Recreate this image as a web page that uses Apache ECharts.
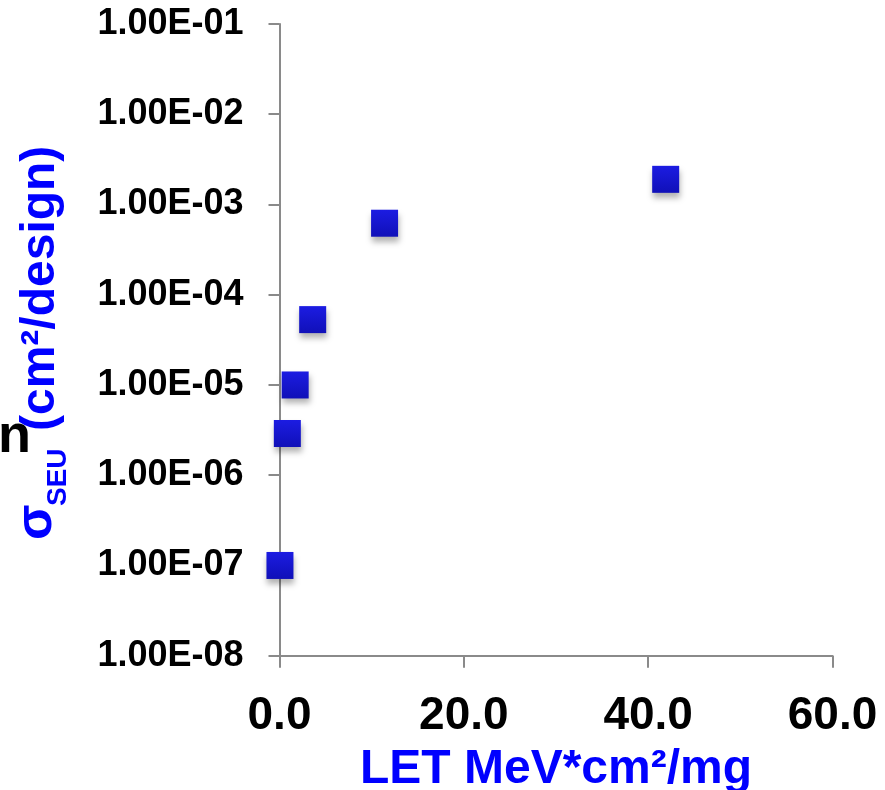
<!DOCTYPE html>
<html>
<head>
<meta charset="utf-8">
<script src="https://cdn.jsdelivr.net/npm/echarts@6/dist/echarts.min.js"></script>
<style>
  html, body { margin: 0; padding: 0; background: #fff; }
  #chart { width: 885px; height: 790px; }
</style>
</head>
<body>
<div id="chart"></div>
<script>
// LET (MeV*cm2/mg) and SEU cross-section (cm2/design)
const letValues = [0.05, 0.85, 1.7, 3.6, 11.4, 41.9]
const sigmaValues = [1e-7, 2.9e-6, 1e-5, 5.3e-5, 6.2e-4, 1.9e-3]
const xTicks = [0, 20, 40, 60]
const yMin = 1e-8
const yMax = 1e-1

const FONT = 'Liberation Sans, Arial, sans-serif'
const BLUE = '#0000ff'
const AXIS_GRAY = '#8a8a8a'

const chart = echarts.init(document.getElementById('chart'))

// "1.00E-03" style labels like Excel
const sciLabel = (v) => {
  const exp = Math.round(Math.log10(v))
  const mant = v / Math.pow(10, exp)
  const sign = exp < 0 ? '-' : '+'
  return mant.toFixed(2) + 'E' + sign + String(Math.abs(exp)).padStart(2, '0')
}

const option = {
  animation: false,
  backgroundColor: '#ffffff',
  grid: {
    left: 279.5,
    right: 52.5,
    top: 24,
    bottom: 134.3,
    outerBoundsMode: 'none',
    containLabel: false
  },
  xAxis: {
    type: 'value',
    min: xTicks[0],
    max: xTicks[xTicks.length - 1],
    interval: 20,
    splitLine: { show: false },
    axisLine: { onZero: false, lineStyle: { color: AXIS_GRAY, width: 2 } },
    axisTick: { show: true, length: 12, lineStyle: { color: AXIS_GRAY, width: 2 } },
    axisLabel: {
      margin: 38,
      fontFamily: FONT,
      fontWeight: 'bold',
      fontSize: 46,
      color: '#000',
      formatter: (v) => v.toFixed(1)
    },
    name: 'LET MeV*cm²/mg',
    nameLocation: 'middle',
    nameGap: 90,
    nameTextStyle: {
      fontFamily: FONT,
      fontWeight: 'bold',
      fontSize: 48,
      color: BLUE
    }
  },
  yAxis: {
    type: 'log',
    logBase: 10,
    min: yMin,
    max: yMax,
    splitLine: { show: false },
    minorTick: { show: false },
    axisLine: { lineStyle: { color: AXIS_GRAY, width: 2 } },
    axisTick: { show: true, length: 11, lineStyle: { color: AXIS_GRAY, width: 2 } },
    axisLabel: {
      margin: 36,
      fontFamily: FONT,
      fontWeight: 'bold',
      fontSize: 36,
      color: '#000',
      formatter: sciLabel
    }
  },
  graphic: [
    // stray "n" left over at the left edge
    {
      type: 'text',
      left: -2,
      top: 410,
      style: { text: 'n', font: 'bold 54px ' + FONT, fill: '#000' }
    },
    // rotated y-axis title: σ_SEU (cm²/design)
    {
      type: 'group',
      x: 0,
      y: 540,
      rotation: Math.PI / 2,
      children: [
        {
          type: 'text',
          x: 0,
          y: 37,
          style: { text: 'σ', font: 'bold 52px ' + FONT, fill: BLUE, verticalAlign: 'middle' }
        },
        {
          type: 'text',
          x: 34,
          y: 58,
          style: { text: 'SEU', font: 'bold 28px ' + FONT, fill: BLUE, verticalAlign: 'middle' }
        },
        {
          type: 'text',
          x: 109,
          y: 41,
          style: { text: '(cm²/design)', font: 'bold 48px ' + FONT, fill: BLUE, verticalAlign: 'middle' }
        }
      ]
    }
  ],
  series: [
    {
      type: 'scatter',
      data: letValues.map((x, i) => [x, sigmaValues[i]]),
      symbol: 'rect',
      symbolSize: 27,
      itemStyle: {
        opacity: 1,
        color: new echarts.graphic.LinearGradient(0, 0, 0, 1, [
          { offset: 0, color: '#1c1ce2' },
          { offset: 1, color: '#1010b8' }
        ]),
        shadowColor: 'rgba(0, 0, 0, 0.3)',
        shadowBlur: 6,
        shadowOffsetX: 1,
        shadowOffsetY: 5
      }
    }
  ]
}

chart.setOption(option)
</script>
</body>
</html>
